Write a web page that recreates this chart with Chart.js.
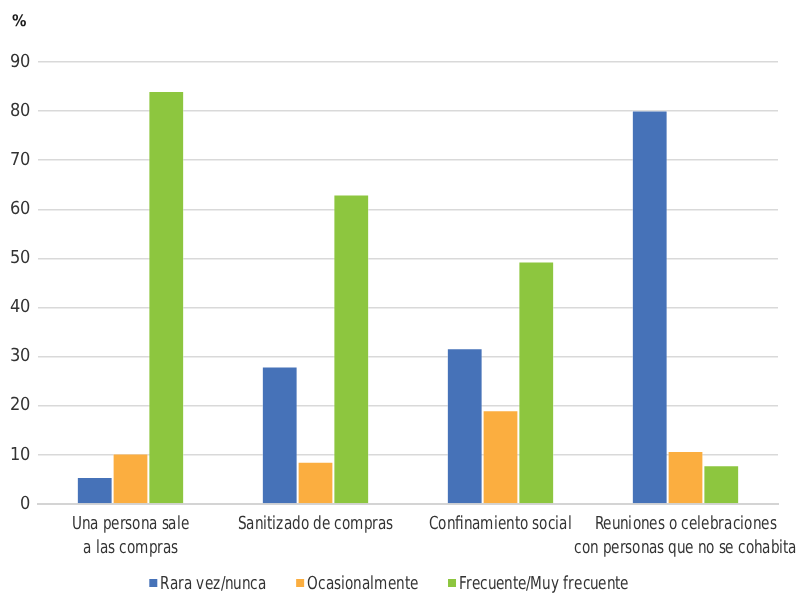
<!DOCTYPE html>
<html>
<head>
<meta charset="utf-8">
<script src="https://cdn.jsdelivr.net/npm/chart.js@4"></script>
<style>
  html, body { margin: 0; padding: 0; background: #fff; }
  #wrap { width: 799px; height: 594px; position: relative; }
  @font-face {
    font-family: 'NarrowLocal';
    src: local('Liberation Sans Narrow'), local('LiberationSansNarrow-Regular'),
         local('DejaVu Sans Condensed'), local('DejaVuSansCondensed');
    font-weight: normal;
  }
  @font-face {
    font-family: 'NarrowLocal';
    src: local('Liberation Sans Narrow Bold'), local('LiberationSansNarrow-Bold'),
         local('DejaVu Sans Condensed Bold'), local('DejaVuSansCondensed-Bold');
    font-weight: bold;
  }
</style>
</head>
<body>
<div id="wrap"><canvas id="chart"></canvas></div>
<script>
const categories = [
    ['Una persona sale', 'a las compras'],
    'Sanitizado de compras',
    'Confinamiento social',
    ['Reuniones o celebraciones', 'con personas que no se cohabita']
];
const seriesNames = ['Rara vez/nunca', 'Ocasionalmente', 'Frecuente/Muy frecuente'];
const rareValues = [5.5, 28.0, 31.7, 80.1];
const occasionalValues = [10.3, 8.6, 19.1, 10.8];
const frequentValues = [84.1, 63.0, 49.4, 7.9];
const yTicks = [0, 10, 20, 30, 40, 50, 60, 70, 80, 90];

const FONT = "NarrowLocal, 'DejaVu Sans', sans-serif";
const colors = ['#4672b8', '#fbae40', '#8dc63f'];
const SQUEEZE = 0.84; // the source font is narrower than anything installed

// category labels, "%" unit and legend
const extras = {
    id: 'extras',
    afterDraw(chart) {
        const ctx = chart.ctx;
        const xScale = chart.scales.x;
        ctx.save();
        ctx.textBaseline = 'middle';

        ctx.fillStyle = '#1a1a1a';
        ctx.font = 'bold 16px ' + FONT;
        ctx.textAlign = 'left';
        ctx.fillText('%', 12, 22);

        // category labels under the axis
        ctx.font = '18px ' + FONT;
        ctx.fillStyle = '#333';
        ctx.textAlign = 'center';
        categories.forEach((label, i) => {
            const lines = Array.isArray(label) ? label : [label];
            const x = xScale.getPixelForTick(i);
            lines.forEach((line, k) => {
                ctx.save();
                ctx.translate(x, xScale.bottom - 42 + k * 24);
                ctx.scale(SQUEEZE, 1);
                ctx.fillText(line, 0, 0);
                ctx.restore();
            });
        });

        // legend
        ctx.textAlign = 'left';
        const box = 8, gapText = 3, gapItem = 30;
        const widths = seriesNames.map(n => ctx.measureText(n).width * SQUEEZE);
        const total = widths.reduce((s, w) => s + box + gapText + w, 0) + gapItem * (seriesNames.length - 1);
        let x = 389 - total / 2;
        const y = 583;
        seriesNames.forEach((name, i) => {
            ctx.fillStyle = colors[i];
            ctx.fillRect(x, y - box / 2, box, box);
            x += box + gapText;
            ctx.fillStyle = '#333';
            ctx.save();
            ctx.translate(x, y + 1);
            ctx.scale(SQUEEZE, 1);
            ctx.fillText(name, 0, 0);
            ctx.restore();
            x += widths[i] + gapItem;
        });
        ctx.restore();
    }
};

function draw() {
    new Chart(document.getElementById('chart'), {
        type: 'bar',
        data: {
            labels: categories,
            datasets: [rareValues, occasionalValues, frequentValues].map((data, i) => ({
                label: seriesNames[i],
                data: data,
                backgroundColor: colors[i],
                borderColor: 'rgba(255,255,255,0.35)',
                borderWidth: 1,
                categoryPercentage: 0.58,
                barPercentage: 1.0
            }))
        },
        options: {
            responsive: true,
            maintainAspectRatio: false,
            animation: false,
            devicePixelRatio: 1,
            layout: { padding: { top: 62, right: 21, bottom: 28, left: 0 } },
            plugins: {
                legend: { display: false },
                tooltip: { enabled: false }
            },
            scales: {
                x: {
                    grid: { display: false, drawTicks: false },
                    border: { display: true, color: '#d4d4d4', width: 2 },
                    ticks: { display: false },
                    afterFit(scale) {
                        scale.height = 62;
                        scale.paddingLeft = 0;
                        scale.paddingRight = 0;
                    }
                },
                y: {
                    min: 0,
                    max: 90,
                    afterBuildTicks(scale) { scale.ticks = yTicks.map(v => ({ value: v })); },
                    grid: { color: '#d9d9d9', lineWidth: 1.5, drawTicks: false },
                    border: { display: false },
                    ticks: {
                        color: '#333',
                        font: { family: FONT, size: 18 },
                        padding: 8
                    },
                    afterFit(scale) { scale.width = 38; }
                }
            }
        },
        plugins: [extras]
    });
}

Promise.all([
    document.fonts.load('18px NarrowLocal'),
    document.fonts.load('bold 16px NarrowLocal')
]).then(draw, draw);
</script>
</body>
</html>
